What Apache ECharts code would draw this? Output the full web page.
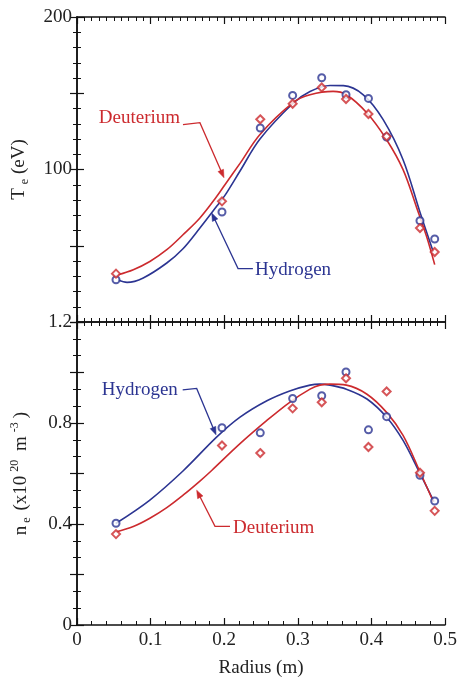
<!DOCTYPE html>
<html>
<head>
<meta charset="utf-8">
<script src="https://cdn.jsdelivr.net/npm/echarts@6/dist/echarts.min.js"></script>
<style>
html,body{margin:0;padding:0;background:#fff;}
#chart{width:461px;height:679px;}
</style>
</head>
<body>
<div id="chart"></div>
<script>
// Measured points (radius in m)
const radius = [0.053, 0.197, 0.249, 0.293, 0.3325, 0.3655, 0.396, 0.4207, 0.466, 0.486];
const teHydrogen = [27.7, 72.1, 127.2, 148.6, 160.2, 149.0, 146.6, 121.3, 66.4, 54.4];
const teDeuterium = [31.7, 79.1, 132.9, 143.1, 153.8, 146.2, 136.4, 121.7, 61.6, 45.9];
const neHydrogen = [0.403, 0.781, 0.761, 0.897, 0.908, 1.002, 0.773, 0.825, 0.593, 0.491];
const neDeuterium = [0.360, 0.711, 0.681, 0.858, 0.882, 0.977, 0.705, 0.925, 0.603, 0.452];

// Fitted curves
const teFitHx = [0.056, 0.068, 0.09, 0.122, 0.144, 0.167, 0.19, 0.201, 0.2215, 0.2486, 0.294, 0.3166, 0.3438, 0.362, 0.389, 0.416, 0.443, 0.466, 0.484];
const teFitHy = [27.5, 26, 28.9, 38.7, 48, 61.6, 76, 83, 99, 120, 143.6, 151.2, 155.1, 155, 149, 132.7, 106.4, 72, 46];
const teFitDx = [0.056, 0.0765, 0.099, 0.122, 0.144, 0.167, 0.19, 0.201, 0.2215, 0.2486, 0.294, 0.3166, 0.348, 0.366, 0.394, 0.4207, 0.443, 0.4615, 0.475, 0.486];
const teFitDy = [31, 34.3, 39.7, 47.4, 57.2, 68.2, 82.4, 90, 104, 123, 144, 149, 151.2, 149, 137, 119.5, 99.9, 75, 56, 37.6];
const neFitHx = [0.0526, 0.099, 0.144, 0.19, 0.2215, 0.258, 0.289, 0.3166, 0.33, 0.3438, 0.366, 0.394, 0.4207, 0.443, 0.466, 0.485];
const neFitHy = [0.402, 0.495, 0.61, 0.745, 0.823, 0.888, 0.927, 0.95, 0.954, 0.95, 0.934, 0.895, 0.823, 0.731, 0.6, 0.489];
const neFitDx = [0.0526, 0.0765, 0.099, 0.122, 0.1445, 0.167, 0.183, 0.2215, 0.258, 0.289, 0.3166, 0.33, 0.3438, 0.366, 0.394, 0.4207, 0.443, 0.466, 0.484];
const neFitDy = [0.368, 0.39, 0.423, 0.465, 0.515, 0.57, 0.612, 0.718, 0.81, 0.882, 0.934, 0.95, 0.954, 0.95, 0.914, 0.842, 0.751, 0.607, 0.489];

// Tick labels
const teTickLabels = ['100', '200'];
const neTickLabels = ['0', '0.4', '0.8', '1.2'];
const xTickLabels = ['0', '0.1', '0.2', '0.3', '0.4', '0.5'];

const BLUE = '#2c3592';
const RED = '#cc2a2e';
const FONT = '"Liberation Serif", "DejaVu Serif", serif';

const pairs = (xs, ys) => xs.map((x, i) => [x, ys[i]]);

function xAx(gridIndex, position, showLabel, minorSplit, name) {
  return {
    type: 'value', gridIndex, position, min: 0, max: 0.5, interval: 0.1,
    axisLine: {show: true, onZero: false, lineStyle: {color: '#111', width: 1.5}},
    axisTick: {show: true, inside: true, length: 7, lineStyle: {color: '#111', width: 1.2}},
    minorTick: {show: true, splitNumber: minorSplit, length: 4, lineStyle: {color: '#111', width: 1}},
    splitLine: {show: false},
    axisLabel: {show: showLabel, margin: 6, color: '#222', fontFamily: FONT, fontSize: 19,
      formatter: v => { const s = String(Math.round(v * 10) / 10); return xTickLabels.includes(s) ? s : ''; }},
    name: name || '', nameLocation: 'middle', nameGap: 34,
    nameTextStyle: {color: '#222', fontFamily: FONT, fontSize: 19}
  };
}

const option = {
  animation: false,
  backgroundColor: '#fff',
  grid: [
    {left: 77, top: 17, width: 368, height: 305},
    {left: 77, top: 322, width: 368, height: 306}
  ],
  xAxis: [
    xAx(0, 'bottom', false, 10),
    xAx(0, 'top', false, 10),
    xAx(1, 'bottom', true, 5, 'Radius (m)'),
    xAx(1, 'top', false, 10)
  ],
  yAxis: [
    {
      type: 'value', gridIndex: 0, position: 'left', min: 0, max: 200, interval: 50,
      axisLine: {show: true, lineStyle: {color: '#111', width: 1.5}},
      axisTick: {show: true, inside: true, length: 7, lineStyle: {color: '#111', width: 1.2}},
      minorTick: {show: true, splitNumber: 5, length: 4, lineStyle: {color: '#111', width: 1}},
      splitLine: {show: false},
      axisLabel: {margin: 5, color: '#222', fontFamily: FONT, fontSize: 19,
        formatter: v => teTickLabels.includes(String(v)) ? String(v) : ''},
      name: '{a|T}{s|e}{a| (eV)}', nameLocation: 'middle', nameRotate: 90, nameGap: 46,
      nameTextStyle: {color: '#222', fontFamily: FONT, fontSize: 19,
        rich: {a: {fontFamily: FONT, fontSize: 19, color: '#222', lineHeight: 22},
               s: {fontFamily: FONT, fontSize: 12, color: '#222', verticalAlign: 'bottom', padding: [12, 0, 0, 4]}}}
    },
    {
      type: 'value', gridIndex: 0, position: 'right', min: 0, max: 200, interval: 50,
      axisLine: {show: true, lineStyle: {color: '#111', width: 1.5}},
      axisTick: {show: true, inside: true, length: 7, lineStyle: {color: '#111', width: 1.2}},
      minorTick: {show: true, splitNumber: 5, length: 4, lineStyle: {color: '#111', width: 1}},
      splitLine: {show: false}, axisLabel: {show: false}
    },
    {
      type: 'value', gridIndex: 1, position: 'left', min: 0, max: 1.2, interval: 0.2,
      axisLine: {show: true, lineStyle: {color: '#111', width: 1.5}},
      axisTick: {show: true, inside: true, length: 7, lineStyle: {color: '#111', width: 1.2}},
      minorTick: {show: true, splitNumber: 3, length: 4, lineStyle: {color: '#111', width: 1}},
      splitLine: {show: false},
      axisLabel: {margin: 5, color: '#222', fontFamily: FONT, fontSize: 19,
        formatter: v => { const s = String(Math.round(v * 10) / 10); return neTickLabels.includes(s) ? s : ''; }},
      name: '{a|n}{s|e}{a| (x10}{p|20}{a| m}{p|-3}{a|)}', nameLocation: 'middle', nameRotate: 90, nameGap: 44,
      nameTextStyle: {color: '#222', fontFamily: FONT, fontSize: 19,
        rich: {a: {fontFamily: FONT, fontSize: 19, color: '#222', lineHeight: 22},
               s: {fontFamily: FONT, fontSize: 12, color: '#222', verticalAlign: 'bottom', padding: [12, 2, 0, 3]},
               p: {fontFamily: FONT, fontSize: 12, color: '#222', verticalAlign: 'top', padding: [0, 4, 12, 4]}}}
    },
    {
      type: 'value', gridIndex: 1, position: 'right', min: 0, max: 1.2, interval: 0.2,
      axisLine: {show: true, lineStyle: {color: '#111', width: 1.5}},
      axisTick: {show: true, inside: true, length: 7, lineStyle: {color: '#111', width: 1.2}},
      minorTick: {show: true, splitNumber: 3, length: 4, lineStyle: {color: '#111', width: 1}},
      splitLine: {show: false}, axisLabel: {show: false}
    }
  ],
  series: [
    {type: 'line', xAxisIndex: 0, yAxisIndex: 0, data: pairs(teFitHx, teFitHy), smooth: 0.35, showSymbol: false, lineStyle: {color: BLUE, width: 1.6}, z: 3},
    {type: 'line', xAxisIndex: 0, yAxisIndex: 0, data: pairs(teFitDx, teFitDy), smooth: 0.35, showSymbol: false, lineStyle: {color: RED, width: 1.6}, z: 3},
    {type: 'scatter', xAxisIndex: 0, yAxisIndex: 0, data: pairs(radius, teHydrogen), symbol: 'emptyCircle', symbolSize: 7, itemStyle: {color: BLUE, borderWidth: 1}, z: 4},
    {type: 'scatter', xAxisIndex: 0, yAxisIndex: 0, data: pairs(radius, teDeuterium), symbol: 'emptyDiamond', symbolSize: 8, itemStyle: {color: RED, borderWidth: 1}, z: 4},
    {type: 'line', xAxisIndex: 2, yAxisIndex: 2, data: pairs(neFitHx, neFitHy), smooth: 0.35, showSymbol: false, lineStyle: {color: BLUE, width: 1.6}, z: 3},
    {type: 'line', xAxisIndex: 2, yAxisIndex: 2, data: pairs(neFitDx, neFitDy), smooth: 0.35, showSymbol: false, lineStyle: {color: RED, width: 1.6}, z: 3},
    {type: 'scatter', xAxisIndex: 2, yAxisIndex: 2, data: pairs(radius, neHydrogen), symbol: 'emptyCircle', symbolSize: 7, itemStyle: {color: BLUE, borderWidth: 1}, z: 4},
    {type: 'scatter', xAxisIndex: 2, yAxisIndex: 2, data: pairs(radius, neDeuterium), symbol: 'emptyDiamond', symbolSize: 8, itemStyle: {color: RED, borderWidth: 1}, z: 4}
  ]
};

const chart = echarts.init(document.getElementById('chart'), null, {renderer: 'canvas'});
chart.setOption(option);

// Annotations (in data coordinates)
const annotations = [
  {grid: 0, text: 'Deuterium', color: RED, textAt: [0.14, 134], align: 'right',
   path: [[0.144, 129.4], [0.167, 130.7], [0.1997, 94.6]]},
  {grid: 0, text: 'Hydrogen', color: BLUE, textAt: [0.242, 34.3], align: 'left',
   path: [[0.239, 35], [0.2188, 35], [0.183, 71.5]]},
  {grid: 1, text: 'Hydrogen', color: BLUE, textAt: [0.137, 0.93], align: 'right',
   path: [[0.1436, 0.931], [0.1626, 0.937], [0.1889, 0.753]]},
  {grid: 1, text: 'Deuterium', color: RED, textAt: [0.212, 0.384], align: 'left',
   path: [[0.2079, 0.3906], [0.1875, 0.3906], [0.1626, 0.534]]}
];

const graphics = [];
annotations.forEach(a => {
  const pts = a.path.map(p => chart.convertToPixel({gridIndex: a.grid}, p));
  const tp = chart.convertToPixel({gridIndex: a.grid}, a.textAt);
  graphics.push({type: 'text', x: tp[0], y: tp[1], z: 10,
    style: {text: a.text, fill: a.color, fontFamily: FONT, fontSize: 19, align: a.align, verticalAlign: 'middle'}});
  const n = pts.length;
  const tip = pts[n - 1], prev = pts[n - 2];
  const dx = tip[0] - prev[0], dy = tip[1] - prev[1];
  const L = Math.hypot(dx, dy), ux = dx / L, uy = dy / L;
  const len = 8, hw = 3;
  const base = [tip[0] - ux * len, tip[1] - uy * len];
  const lineEnd = [tip[0] - ux * 4, tip[1] - uy * 4];
  graphics.push({type: 'polyline', z: 10, shape: {points: pts.slice(0, n - 1).concat([lineEnd])},
    style: {stroke: a.color, lineWidth: 1.3, fill: null}});
  graphics.push({type: 'polygon', z: 10, shape: {points: [tip, [base[0] - uy * hw, base[1] + ux * hw], [base[0] + uy * hw, base[1] - ux * hw]]},
    style: {fill: a.color, stroke: a.color, lineWidth: 0.5}});
});
chart.setOption({graphic: graphics});
</script>
</body>
</html>
